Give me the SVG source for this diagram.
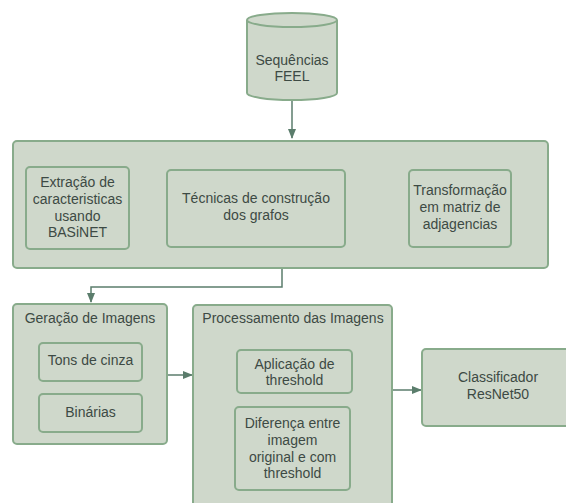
<svg xmlns="http://www.w3.org/2000/svg" width="566" height="503" viewBox="0 0 566 503">
<defs>
<marker id="ah" viewBox="0 0 10 10" refX="9" refY="5" markerWidth="10" markerHeight="10" markerUnits="userSpaceOnUse" orient="auto">
<path d="M0,1 L10,5 L0,9 Z" fill="#5b7d6c"/>
</marker>
<style>
.n{fill:#cfd8cb;stroke:#88ab8b;stroke-width:2}
.t{font-family:"Liberation Sans",Arial,sans-serif;font-size:14px;fill:#3d4a44;text-anchor:middle}
.c{fill:none;stroke:#5b7d6c;stroke-width:1.5;marker-end:url(#ah)}
</style>
</defs>
<rect width="566" height="503" fill="#ffffff"/>
<g id="connectors">
<path class="c" d="M292,101 V138"/>
<path class="c" d="M129,209 H166"/>
<path class="c" d="M345,209 H408"/>
<path class="c" d="M282,268 V287 H91 V302"/>
<path class="c" d="M167,375 H192"/>
<path class="c" d="M392,390 H421"/>
</g>
<g id="sequencias">
<path class="n" d="M247,20 V93 A45,7 0 0 0 337,93 V20 A45,7 0 0 0 247,20 Z"/>
<path d="M247,20 A45,7 0 0 0 337,20" fill="none" stroke="#88ab8b" stroke-width="2"/>
<text class="t" x="292" y="65">Sequências</text>
<text class="t" x="292" y="81">FEEL</text>
</g>
<g id="grupo-grafos">
<rect class="n" x="13" y="141" width="535" height="127" rx="4"/>
</g>
<g id="extracao">
<rect class="n" x="26" y="167" width="103" height="82" rx="4"/>
<text class="t" x="77.5" y="187">Extração de</text>
<text class="t" x="77.5" y="204">caracteristicas</text>
<text class="t" x="77.5" y="221">usando</text>
<text class="t" x="77.5" y="237">BASiNET</text>
</g>
<g id="tecnicas">
<rect class="n" x="167" y="170" width="178" height="77" rx="4"/>
<text class="t" x="256" y="203">Técnicas de construção</text>
<text class="t" x="256" y="220">dos grafos</text>
</g>
<g id="transformacao">
<rect class="n" x="409" y="170" width="102" height="77" rx="4"/>
<text class="t" x="460" y="195">Transformação</text>
<text class="t" x="460" y="212">em matriz de</text>
<text class="t" x="460" y="229">adjagencias</text>
</g>
<g id="geracao">
<rect class="n" x="13" y="304" width="154" height="140" rx="4"/>
<text class="t" x="90" y="323">Geração de Imagens</text>
</g>
<g id="tons">
<rect class="n" x="39" y="343" width="103" height="38" rx="4"/>
<text class="t" x="90.5" y="365">Tons de cinza</text>
</g>
<g id="binarias">
<rect class="n" x="39" y="394" width="103" height="38" rx="4"/>
<text class="t" x="90.5" y="417">Binárias</text>
</g>
<g id="processamento">
<rect class="n" x="193" y="305" width="199" height="210" rx="4"/>
<text class="t" x="293" y="323">Processamento das Imagens</text>
</g>
<g id="aplicacao">
<rect class="n" x="237" y="350" width="115" height="43" rx="4"/>
<text class="t" x="294.5" y="369">Aplicação de</text>
<text class="t" x="294.5" y="385">threshold</text>
</g>
<g id="diferenca">
<rect class="n" x="235" y="407" width="115" height="83" rx="4"/>
<text class="t" x="292.5" y="428">Diferença entre</text>
<text class="t" x="292.5" y="445">imagem</text>
<text class="t" x="292.5" y="462">original e com</text>
<text class="t" x="292.5" y="478">threshold</text>
</g>
<g id="classificador">
<rect class="n" x="422" y="349" width="152" height="77" rx="4"/>
<text class="t" x="498" y="382">Classificador</text>
<text class="t" x="498" y="399">ResNet50</text>
</g>
</svg>
